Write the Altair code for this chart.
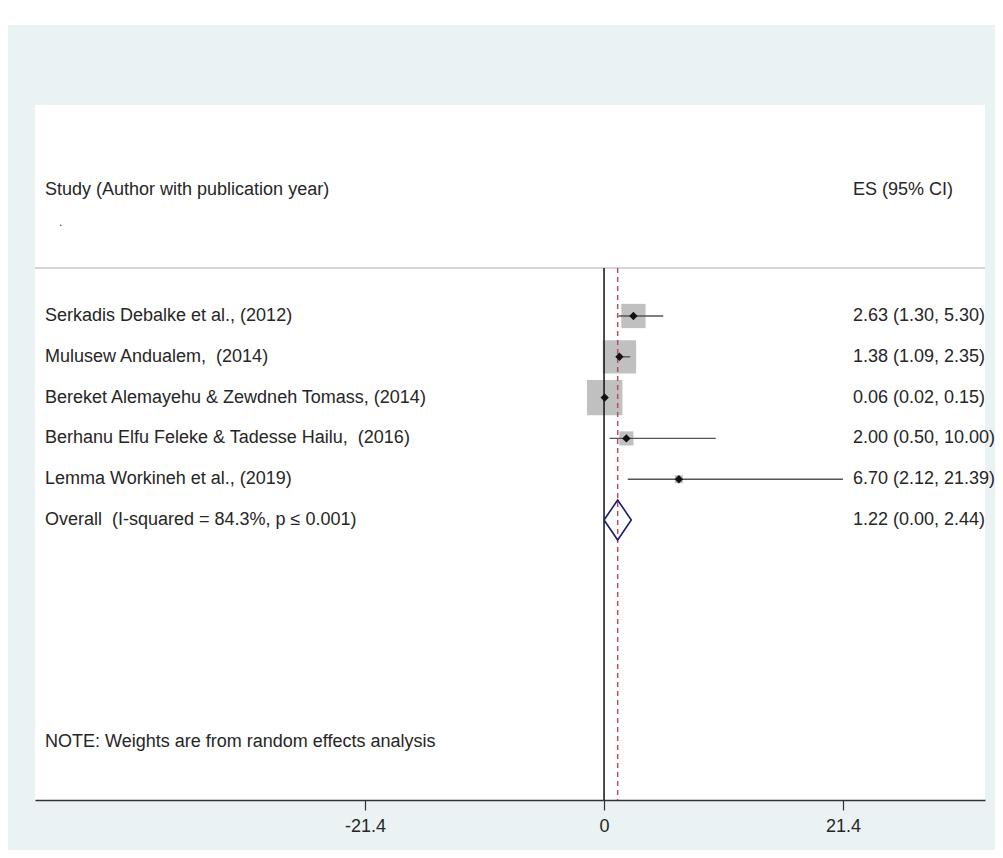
import altair as alt
import pandas as pd

# ---------------- data ----------------
studies = [
    "Serkadis Debalke et al., (2012)",
    "Mulusew Andualem,\u00a0 (2014)",
    "Bereket Alemayehu & Zewdneh Tomass, (2014)",
    "Berhanu Elfu Feleke & Tadesse Hailu,\u00a0 (2016)",
    "Lemma Workineh et al., (2019)",
]
es = [2.63, 1.38, 0.06, 2.00, 6.70]
ci_lo = [1.30, 1.09, 0.02, 0.50, 2.12]
ci_hi = [5.30, 2.35, 0.15, 10.00, 21.39]
weights = [18.3, 34.6, 38.9, 6.2, 2.0]
rows = [1, 2, 3, 4, 5]

overall_label = "Overall\u00a0 (I-squared = 84.3%, p \u2264 0.001)"
overall_es = 1.22
overall_lo = 0.00
overall_hi = 2.44
overall_row = 6

tick_values = [-21.4, 0, 21.4]
tick_labels = ["-21.4", "0", "21.4"]

header_left = "Study (Author with publication year)"
header_right = "ES (95% CI)"
note_text = "NOTE: Weights are from random effects analysis"

# ---------------- layout constants ----------------
W, H = 950, 695
X_DOMAIN = [-50.95, 34.11]
Y_DOMAIN = [-4.17, 12.86]
HEADER_ROW = -2.09
DOT_ROW = -1.30
SEP_ROW = -0.176
NOTE_ROW = 11.44
DIAMOND_HALF = 0.49
FONT = "Liberation Sans"
FS = 18
TEXT_COLOR = "#262626"
LEFT_X = 10
RIGHT_X = 818

xs = alt.Scale(domain=X_DOMAIN, nice=False, zero=False)
ys = alt.Scale(domain=Y_DOMAIN, nice=False, zero=False, reverse=True)

label_map = "{" + ", ".join(f"'{v}': '{l}'" for v, l in zip(tick_values, tick_labels)) + "}"
label_expr = f"{label_map}[toString(datum.value)]"
axis_x = alt.Axis(
    values=tick_values, labelExpr=label_expr,
    title=None, grid=False, domainColor="#333333", domainWidth=1.5,
    tickColor="#333333", tickWidth=1.2, tickSize=10, labelPadding=7,
    labelFont=FONT, labelFontSize=FS, labelColor=TEXT_COLOR,
)

df = pd.DataFrame({
    "study": studies, "es": es, "lo": ci_lo, "hi": ci_hi,
    "w": weights, "row": rows,
})
df["label"] = [f"{e:.2f} ({l:.2f}, {h:.2f})" for e, l, h in zip(es, ci_lo, ci_hi)]

ov = pd.DataFrame({
    "study": [overall_label], "row": [overall_row],
    "label": [f"{overall_es:.2f} ({overall_lo:.2f}, {overall_hi:.2f})"],
})

diamond = pd.DataFrame({
    "x": [overall_lo, overall_es, overall_hi, overall_es, overall_lo],
    "y": [overall_row, overall_row - DIAMOND_HALF, overall_row,
          overall_row + DIAMOND_HALF, overall_row],
    "o": [0, 1, 2, 3, 4],
})

vlines = pd.DataFrame({"x": [0.0], "y": [SEP_ROW]})
dline = pd.DataFrame({"x": [overall_es], "y": [SEP_ROW]})
sepdf = pd.DataFrame({"y": [SEP_ROW]})
hdr_l = pd.DataFrame({"t": [header_left], "y": [HEADER_ROW]})
hdr_r = pd.DataFrame({"t": [header_right], "y": [HEADER_ROW]})
dotdf = pd.DataFrame({"t": ["."], "y": [DOT_ROW]})
notedf = pd.DataFrame({"t": [note_text], "y": [NOTE_ROW]})
stripdf = pd.DataFrame({"a": [0]})

base = alt.Chart(df)

boxes = base.mark_square(color="#c0c0c0", opacity=1).encode(
    x=alt.X("es:Q", scale=xs, axis=axis_x),
    y=alt.Y("row:Q", scale=ys, axis=None),
    size=alt.Size("w:Q", scale=alt.Scale(domain=[0, 38.9], range=[0, 1250]), legend=None),
)

# white strip above the light-blue frame (page decoration)
strip = alt.Chart(stripdf).mark_rect(color="white", clip=False).encode(
    x=alt.value(-40), x2=alt.value(W + 40), y=alt.value(-98), y2=alt.value(-80)
)

sep = alt.Chart(sepdf).mark_rule(color="#c8c8c8", strokeWidth=1.5).encode(
    x=alt.value(0), x2=alt.value(W), y=alt.Y("y:Q", scale=ys)
)

zero_line = alt.Chart(vlines).mark_rule(color="#111111", strokeWidth=1.5).encode(
    x=alt.X("x:Q", scale=xs), y=alt.Y("y:Q", scale=ys), y2=alt.value(H)
)

dash_line = alt.Chart(dline).mark_rule(
    color="#b4505e", strokeWidth=1.5, strokeDash=[5, 4]
).encode(
    x=alt.X("x:Q", scale=xs), y=alt.Y("y:Q", scale=ys), y2=alt.value(H)
)

ci = base.mark_rule(color="#555555", strokeWidth=1.4).encode(
    x=alt.X("lo:Q", scale=xs), x2="hi:Q", y=alt.Y("row:Q", scale=ys)
)

pts = base.mark_point(shape="diamond", filled=True, color="#111111", size=70, opacity=1).encode(
    x=alt.X("es:Q", scale=xs), y=alt.Y("row:Q", scale=ys)
)

dia = alt.Chart(diamond).mark_line(color="#1c1f66", strokeWidth=1.6).encode(
    x=alt.X("x:Q", scale=xs), y=alt.Y("y:Q", scale=ys), order="o:Q"
)

txt_kw = dict(font=FONT, fontSize=FS, color=TEXT_COLOR, baseline="middle", align="left")

left_txt = base.mark_text(**txt_kw).encode(
    x=alt.value(LEFT_X), y=alt.Y("row:Q", scale=ys), text="study:N"
)
right_txt = base.mark_text(**txt_kw).encode(
    x=alt.value(RIGHT_X), y=alt.Y("row:Q", scale=ys), text="label:N"
)
ov_left = alt.Chart(ov).mark_text(**txt_kw).encode(
    x=alt.value(LEFT_X), y=alt.Y("row:Q", scale=ys), text="study:N"
)
ov_right = alt.Chart(ov).mark_text(**txt_kw).encode(
    x=alt.value(RIGHT_X), y=alt.Y("row:Q", scale=ys), text="label:N"
)
hl = alt.Chart(hdr_l).mark_text(**txt_kw).encode(
    x=alt.value(LEFT_X), y=alt.Y("y:Q", scale=ys), text="t:N"
)
hr = alt.Chart(hdr_r).mark_text(**txt_kw).encode(
    x=alt.value(RIGHT_X), y=alt.Y("y:Q", scale=ys), text="t:N"
)
dot = alt.Chart(dotdf).mark_text(
    font=FONT, fontSize=12, color="#333333", baseline="middle", align="left"
).encode(x=alt.value(24), y=alt.Y("y:Q", scale=ys), text="t:N")
note = alt.Chart(notedf).mark_text(**txt_kw).encode(
    x=alt.value(LEFT_X), y=alt.Y("y:Q", scale=ys), text="t:N"
)

chart = alt.layer(
    boxes, strip, sep, zero_line, dash_line, ci, pts, dia,
    left_txt, right_txt, ov_left, ov_right, hl, hr, dot, note,
).properties(
    width=W, height=H,
    background="#eaf2f3",
    padding={"left": 27, "top": 97, "right": 10, "bottom": 50},
    autosize=alt.AutoSizeParams(type="none"),
).configure_view(
    fill="white", stroke=None
)

chart.save("out.html", embed_options={"renderer": "svg", "actions": False})
